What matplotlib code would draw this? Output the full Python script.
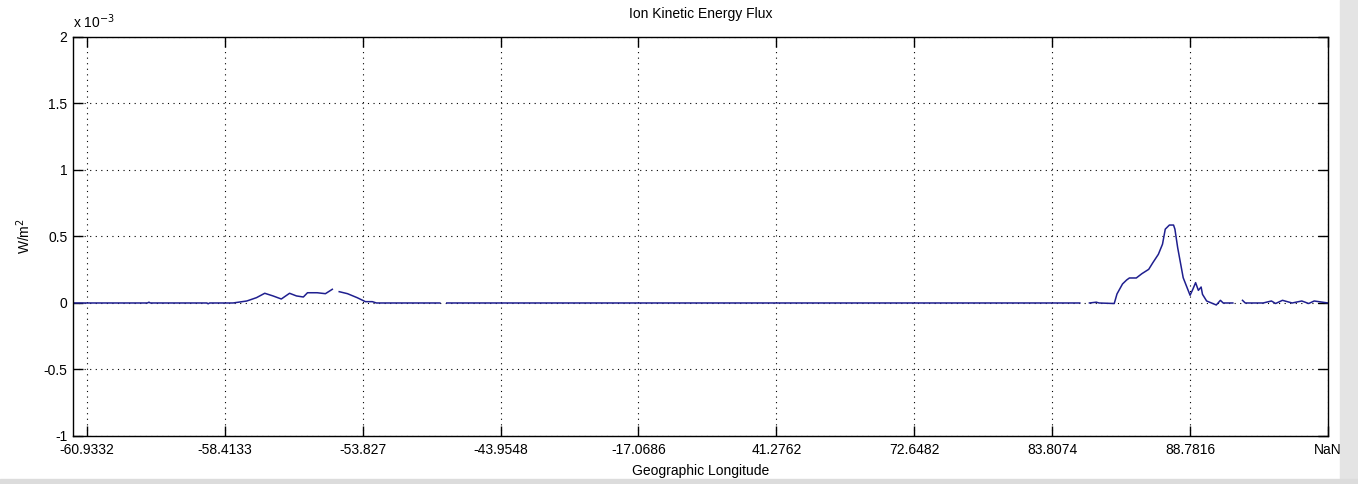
import numpy as np
import matplotlib
matplotlib.use('Agg')
import matplotlib.pyplot as plt
from matplotlib.patches import Rectangle

# sample index along the pass and ion kinetic energy flux (x 10^-3 W/m^2), NaN = data gap
sample = [90, 144, 145, 146, 187, 188, 189, 206, 216, 223, 229, 235, 241, 247, 252,
          257, 260, 267, 273, 278, 280, 283, 289, 296, 302, 307, 310, 356, 358, 361,
          820, 823, 827, 832, 834, 845, 847, 851, 854, 856, 861, 865, 870, 873, 877,
          880, 882, 885, 888, 889, 891, 895, 900, 902, 904, 906, 908, 909, 912, 919,
          922, 924, 931, 934, 938, 940, 943, 953, 959, 962, 967, 974, 981, 986, 990, 1000]
flux = [0, 0, 0.006, 0, 0, -0.006, 0, 0, 0.015, 0.04, 0.073, 0.053, 0.03, 0.073, 0.053,
        0.045, 0.077, 0.077, 0.07, 0.103, np.nan, 0.085, 0.07, 0.04, 0.01, 0.01, 0, 0, np.nan, 0,
        0, np.nan, 0, 0.006, 0, -0.004, 0.068, 0.143, 0.173, 0.188, 0.188, 0.22, 0.253, 0.303, 0.366,
        0.442, 0.555, 0.586, 0.586, 0.555, 0.416, 0.19, 0.058, 0.103, 0.153, 0.095, 0.12, 0.065, 0.015, -0.015,
        0.02, 0, 0, np.nan, 0.02, 0, 0, 0, 0.015, -0.004, 0.02, 0, 0.015, -0.004, 0.015, 0]

tick_pos = [100, 200, 300, 400, 500, 600, 700, 800, 900, 1000]
lon_labels = ['-60.9332', '-58.4133', '-53.827', '-43.9548', '-17.0686',
              '41.2762', '72.6482', '83.8074', '88.7816', 'NaN']
y_ticks = [-1, -0.5, 0, 0.5, 1, 1.5, 2]

plt.rcParams['font.family'] = ['Liberation Sans', 'DejaVu Sans']

fig = plt.figure(figsize=(13.58, 4.84), dpi=100)
ax = fig.add_axes([0.0538, 0.0992, 0.9241, 0.8244])

ax.plot(sample, flux, color='#1f1f8f', lw=1.1)

ax.set_xlim(90, 1000)
ax.set_ylim(-1, 2)
ax.set_xticks(tick_pos)
ax.set_xticklabels(lon_labels)
ax.set_yticks(y_ticks)
ax.set_yticklabels(['%g' % v for v in y_ticks])
ax.tick_params(direction='in', length=7, width=1, labelsize=10, top=True, right=True)
ax.tick_params(axis='x', pad=5)
ax.tick_params(axis='y', pad=4)
ax.grid(True, color='black', linestyle=(0, (1, 4)), linewidth=0.8)
for s in ax.spines.values():
    s.set_linewidth(1)

ax.set_title('Ion Kinetic Energy Flux', fontsize=10, pad=14)
ax.set_xlabel('Geographic Longitude', fontsize=10, labelpad=5)
ax.set_ylabel('W/m$^2$', fontsize=10, labelpad=8)
ax.text(0.0, 1.015, 'x 10$^{-3}$', transform=ax.transAxes, fontsize=10, ha='left', va='bottom')

# grey frame edges of the screenshot
fig.add_artist(Rectangle((1340 / 1358, 0), 18 / 1358, 1, transform=fig.transFigure,
                         color='#e4e4e4', zorder=10))
fig.add_artist(Rectangle((0, 0), 1, 5 / 484, transform=fig.transFigure,
                         color='#dcdcdc', zorder=10))

fig.savefig('out.png', dpi=100)
